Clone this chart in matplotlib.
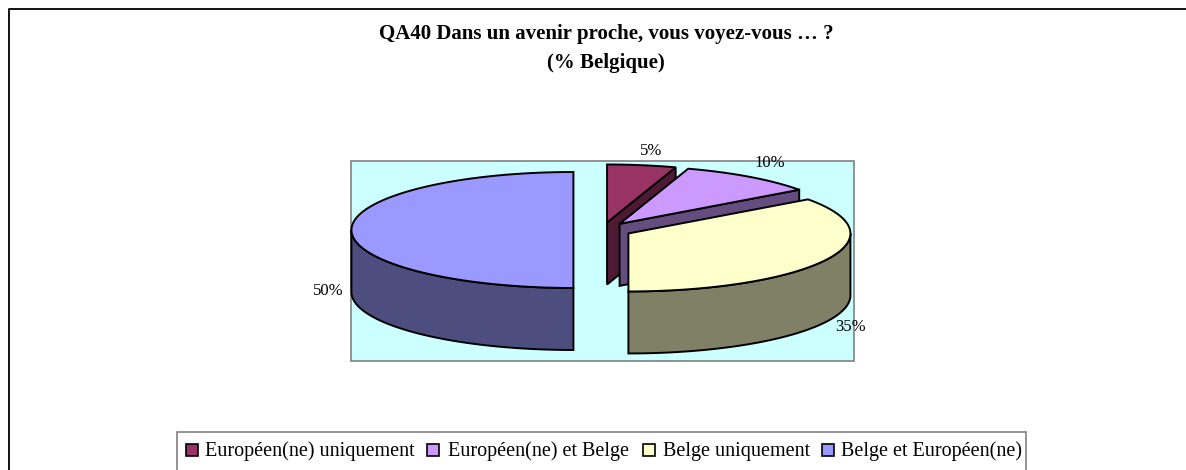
import numpy as np
import matplotlib
matplotlib.use('Agg')
import matplotlib.pyplot as plt
from matplotlib.patches import Polygon, Rectangle

plt.rcParams['font.family'] = ['Liberation Serif', 'DejaVu Serif']

# 数据
categories = ['Européen(ne) uniquement', 'Européen(ne) et Belge', 'Belge uniquement', 'Belge et Européen(ne)']
values = [5, 10, 35, 50]
value_labels = ['5%', '10%', '35%', '50%']
top_colors = ['#993366', '#CC99FF', '#FFFFCC', '#9999FF']
side_colors = ['#4D1933', '#664D80', '#808066', '#4D4D80']
title_lines = ['QA40 Dans un avenir proche, vous voyez-vous … ?', '(% Belgique)']

# 饼图几何参数（像素）
CX, CY = 602.5, 230
RX, RY = 222, 58
DEPTH = 62
EXPLODE = 0.131
label_pos = [(651, 151), (770, 163), (851, 327), (328, 291)]
legend_swatch_x = [186, 427, 643, 822]
legend_text_x = [205, 448, 663, 841]

fig = plt.figure(figsize=(11.86, 4.70), dpi=100)
ax = fig.add_axes([0, 0, 1, 1])
ax.set_xlim(0, 1186)
ax.set_ylim(470, 0)
ax.axis('off')

# 外框，右边和下边被裁掉
ax.plot([8.5, 8.5, 1186], [470, 8.5, 8.5], color='black', lw=1.3, zorder=1)

# 绘图区背景
ax.add_patch(Rectangle((351, 161), 503, 200, facecolor='#CCFFFF', edgecolor='#808080', lw=1.2, zorder=1))


def ellipse_points(cx, cy, a0, a1):
    # 角度从正上方顺时针
    angles = np.radians(np.linspace(a0, a1, 80))
    return np.column_stack([cx + RX * np.sin(angles), cy - RY * np.cos(angles)])


def draw_slice(start, end, color, side, z):
    mid = np.radians((start + end) / 2)
    cx = CX + EXPLODE * RX * np.sin(mid)
    cy = CY - EXPLODE * RY * np.cos(mid)
    center = np.array([cx, cy])
    arc = ellipse_points(cx, cy, start, end)
    down = np.array([0, DEPTH])

    # 外侧面：只画朝前的那段弧
    a0, a1 = max(start, 90), min(end, 270)
    if a0 < a1:
        front = ellipse_points(cx, cy, a0, a1)
        wall = np.vstack([front, (front + down)[::-1]])
        ax.add_patch(Polygon(wall, closed=True, facecolor=side, edgecolor='black', lw=1.4, zorder=z))

    # 切面：右上象限的扇块，结束边朝前
    if end <= 90:
        edge = arc[-1]
        face = np.vstack([center, edge, edge + down, center + down])
        ax.add_patch(Polygon(face, closed=True, facecolor=side, edgecolor='black', lw=1.4, zorder=z))

    top = np.vstack([center, arc])
    ax.add_patch(Polygon(top, closed=True, facecolor=color, edgecolor='black', lw=1.4, zorder=z + 0.2))


total = sum(values)
bounds = np.cumsum([0] + values) / total * 360
for i in range(len(values)):
    draw_slice(bounds[i], bounds[i + 1], top_colors[i], side_colors[i], 2 + i)

for txt, (x, y) in zip(value_labels, label_pos):
    ax.text(x, y, txt, ha='center', va='center', fontsize=12, color='black', zorder=10)

# 标题
ax.text(606, 34, title_lines[0], ha='center', va='center', fontsize=15, fontweight='bold')
ax.text(606, 63, title_lines[1], ha='center', va='center', fontsize=15, fontweight='bold')

# 图例
ax.add_patch(Rectangle((177, 432), 849, 50, facecolor='white', edgecolor='#808080', lw=1.2, zorder=1))
for name, color, sx, tx in zip(categories, top_colors, legend_swatch_x, legend_text_x):
    ax.add_patch(Rectangle((sx, 444), 12, 12, facecolor=color, edgecolor='black', lw=1.2, zorder=2))
    ax.text(tx, 456, name, ha='left', va='baseline', fontsize=14.5, zorder=2)

fig.savefig('out.png', dpi=100, facecolor='white')
